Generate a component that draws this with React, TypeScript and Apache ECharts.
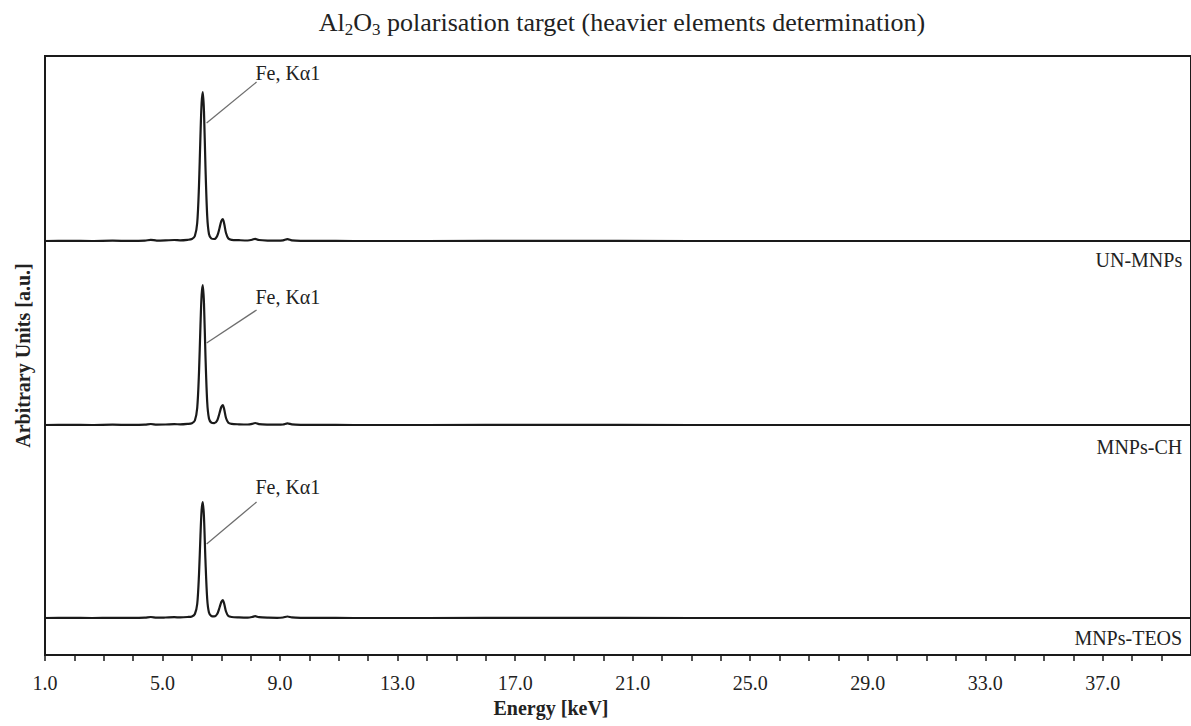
import React, { useEffect, useRef } from "react";
import * as echarts from "echarts";

// ---- data ----
const energyKeV = [
  1.0, 1.8, 2.6, 3.3, 3.9, 4.4, 4.6, 4.8, 5.1, 5.4,
  5.6, 5.85, 6.0, 6.1, 6.18, 6.24, 6.29, 6.33, 6.37, 6.41,
  6.46, 6.52, 6.58, 6.66, 6.76, 6.86, 6.94, 7.0, 7.05, 7.1,
  7.16, 7.24, 7.35, 7.6, 7.9, 8.05, 8.15, 8.28, 8.6, 8.9,
  9.1, 9.25, 9.4, 9.7, 10.3, 11.5, 14, 18, 23, 28,
  33, 37, 40,
];
const unMNPs = [
  0.0, 0.2, 0.0, 0.3, 0.1, 0.4, 1.2, 0.4, 0.6, 1.0,
  0.7, 1.2, 2.0, 5, 18, 55, 105, 138, 149, 130,
  75, 25, 7, 2.5, 2, 5, 13, 20, 22, 17,
  8, 2.5, 1.2, 0.8, 0.5, 1.2, 2.2, 1, 0.4, 0.3,
  0.6, 1.8, 0.7, 0.2, 0.1, 0, 0, 0.1, 0, 0,
  0, 0, 0,
];
const mnpsCH = [
  0.0, 0.1, 0.0, 0.3, 0.1, 0.3, 1.0, 0.4, 0.5, 0.9,
  0.6, 1.1, 1.8, 4.5, 17, 52, 99, 130, 140, 122,
  70, 23, 6.5, 2.3, 1.8, 4.5, 12, 18, 20, 15.5,
  7, 2.2, 1.1, 0.7, 0.5, 1.1, 2.0, 0.9, 0.4, 0.3,
  0.5, 1.6, 0.6, 0.2, 0.1, 0, 0, 0.1, 0, 0,
  0, 0, 0,
];
const mnpsTEOS = [
  0.0, 0.2, 0.0, 0.2, 0.1, 0.3, 1.0, 0.3, 0.5, 0.8,
  0.6, 1.0, 1.6, 4, 14, 43, 82, 108, 116, 101,
  58, 19, 5.5, 2, 1.6, 4, 10.5, 16, 18, 14,
  6.5, 2, 1, 0.6, 0.4, 1, 1.8, 0.8, 0.3, 0.2,
  0.5, 1.5, 0.6, 0.2, 0.1, 0, 0, 0.1, 0, 0,
  0, 0, 0,
];
const sampleNames = ["UN-MNPs", "MNPs-CH", "MNPs-TEOS"];
const sampleSpectra = [unMNPs, mnpsCH, mnpsTEOS];
const stackOffsets = [414, 230, 37]; // vertical offset of each stacked spectrum [a.u.]
const xTickLabels = ["1.0", "5.0", "9.0", "13.0", "17.0", "21.0", "25.0", "29.0", "33.0", "37.0"];
const peakLabel = "Fe, K\u03b11";
const leaderStartKeV = 6.5;
const leaderEndKeV = 8.2;
const leaderStartHeight = [118, 82, 74];
const leaderEndHeight = [159, 115, 116];
const peakLabelKeV = 8.16;
const peakLabelHeight = [168, 128, 131];
const sampleLabelKeV = 39.7;
const sampleLabelDrop = [-19, -22, -20];

const SERIF = "'Liberation Serif', 'DejaVu Serif', serif";
const INK = "#1a1a1a";

export default function App() {
  const ref = useRef<HTMLDivElement>(null);

  useEffect(() => {
    if (!ref.current) return;
    const chart = echarts.init(ref.current, null, { renderer: "svg" });

    const series = sampleNames.map((name, i) => {
      const off = stackOffsets[i];
      const values = sampleSpectra[i];
      return {
        name,
        type: "line",
        data: energyKeV.map((e, k) => [e, values[k] + off]),
        showSymbol: false,
        smooth: 0.3,
        lineStyle: { color: INK, width: 2.2 },
        itemStyle: { color: INK },
        silent: true,
        markLine: {
          silent: true,
          symbol: ["none", "none"],
          lineStyle: { color: "#6e6e6e", width: 1.3, type: "solid" },
          label: { show: false },
          data: [
            [
              { coord: [leaderStartKeV, off + leaderStartHeight[i]] },
              { coord: [leaderEndKeV, off + leaderEndHeight[i]] },
            ],
          ],
        },
        markPoint: {
          silent: true,
          symbol: "circle",
          symbolSize: 0,
          data: [
            {
              coord: [peakLabelKeV, off + peakLabelHeight[i]],
              label: {
                show: true,
                formatter: peakLabel,
                position: "right",
                distance: 0,
                fontFamily: SERIF,
                fontSize: 20,
                color: "#222",
              },
            },
            {
              coord: [sampleLabelKeV, off + sampleLabelDrop[i]],
              label: {
                show: true,
                formatter: name,
                position: "left",
                distance: 0,
                fontFamily: SERIF,
                fontSize: 20,
                color: "#222",
              },
            },
          ],
        },
      };
    });

    chart.setOption({
      animation: false,
      backgroundColor: "#ffffff",
      title: {
        text: "{n|Al}{s|2}{n|O}{s|3}{n| polarisation target (heavier elements determination)}",
        left: 617,
        top: 2,
        textAlign: "center",
        textStyle: {
          fontWeight: "normal",
          rich: {
            n: { fontFamily: SERIF, fontSize: 26, fontWeight: "normal", color: "#222" },
            s: {
              fontFamily: SERIF,
              fontSize: 17,
              fontWeight: "normal",
              color: "#222",
              padding: [14, 0, 0, 0],
            },
          },
        },
      },
      grid: {
        left: 45,
        top: 56,
        bottom: 71,
        right: -8,
        show: true,
        borderColor: INK,
        borderWidth: 2,
        backgroundColor: "transparent",
      },
      xAxis: {
        type: "value",
        min: 1,
        max: 40,
        interval: 1,
        name: "Energy [keV]",
        nameLocation: "middle",
        nameGap: 42,
        nameTextStyle: {
          fontFamily: SERIF,
          fontWeight: "bold",
          fontSize: 20,
          color: "#222",
          padding: [0, 134, 0, 0],
        },
        axisLine: { show: true, onZero: false, lineStyle: { color: INK, width: 2 } },
        axisTick: { show: true, length: 6, lineStyle: { color: INK, width: 1.5 } },
        axisLabel: {
          margin: 18,
          fontFamily: SERIF,
          fontSize: 20,
          color: "#222",
          showMaxLabel: false,
          formatter: (v: number) => {
            const s = v.toFixed(1);
            return xTickLabels.includes(s) ? s : "";
          },
        },
        splitLine: { show: false },
      },
      yAxis: {
        type: "value",
        min: 0,
        max: 599,
        name: "Arbitrary Units [a.u.]",
        nameLocation: "middle",
        nameGap: 12,
        nameTextStyle: {
          fontFamily: SERIF,
          fontWeight: "bold",
          fontSize: 20,
          color: "#222",
        },
        axisLine: { show: true, lineStyle: { color: INK, width: 2 } },
        axisTick: { show: false },
        axisLabel: { show: false },
        splitLine: { show: false },
      },
      series,
    });

    return () => chart.dispose();
  }, []);

  return (
    <div
      ref={ref}
      style={{ position: "fixed", left: 0, top: 0, width: 1191, height: 726, background: "#fff" }}
    />
  );
}
